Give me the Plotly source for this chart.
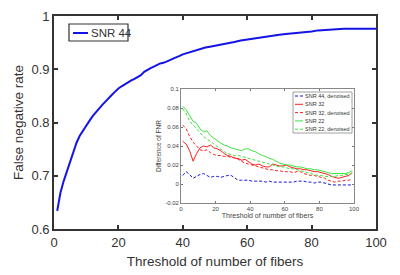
import plotly.graph_objects as go

# ---------------- data ----------------
main_x = list(range(1, 51)) + list(range(52, 101, 2))
snr44_fnr = [0.634, 0.668, 0.690, 0.708, 0.725, 0.740, 0.762, 0.775, 0.785, 0.795,
             0.803, 0.812, 0.820, 0.826, 0.833, 0.840, 0.846, 0.852, 0.858, 0.864,
             0.868, 0.872, 0.876, 0.879, 0.882, 0.885, 0.889, 0.895, 0.899, 0.902,
             0.905, 0.908, 0.911, 0.912, 0.914, 0.917, 0.920, 0.922, 0.925, 0.928,
             0.930, 0.932, 0.934, 0.936, 0.938, 0.939, 0.941, 0.942, 0.943, 0.945,
             0.947, 0.949, 0.951, 0.954, 0.956, 0.958, 0.960, 0.962, 0.964, 0.965,
             0.966, 0.967, 0.968, 0.969, 0.971, 0.973, 0.974, 0.975, 0.975, 0.976,
             0.976, 0.976, 0.976, 0.976, 0.976]

inset_x = list(range(1, 100, 2))
snr44_den = [0.009, 0.013, 0.010, 0.006, 0.008, 0.010, 0.011, 0.009, 0.007, 0.008,
             0.008, 0.007, 0.008, 0.009, 0.009, 0.006, 0.004, 0.004, 0.004, 0.004,
             0.003, 0.003, 0.003, 0.003, 0.002, 0.003, 0.002, 0.002, 0.002, 0.002,
             0.002, 0.002, 0.002, 0.003, 0.003, 0.003, 0.002, 0.002, 0.001, 0.002,
             0.002, 0.001, 0.000, -0.001, -0.001, -0.001, -0.001, -0.001, -0.001, -0.001]
snr32 = [0.045, 0.042, 0.035, 0.024, 0.032, 0.038, 0.040, 0.039, 0.041, 0.038,
         0.037, 0.035, 0.032, 0.030, 0.029, 0.027, 0.027, 0.025, 0.026, 0.023,
         0.021, 0.020, 0.021, 0.019, 0.018, 0.018, 0.021, 0.020, 0.019, 0.019,
         0.020, 0.018, 0.017, 0.016, 0.016, 0.015, 0.015, 0.014, 0.013, 0.013,
         0.012, 0.011, 0.010, 0.008, 0.007, 0.006, 0.007, 0.008, 0.009, 0.012]
snr32_den = [0.062, 0.058, 0.050, 0.044, 0.040, 0.036, 0.035, 0.036, 0.033, 0.031,
             0.030, 0.030, 0.029, 0.029, 0.028, 0.028, 0.026, 0.024, 0.022, 0.021,
             0.020, 0.019, 0.018, 0.017, 0.016, 0.015, 0.015, 0.014, 0.014, 0.013,
             0.013, 0.013, 0.012, 0.013, 0.013, 0.011, 0.010, 0.009, 0.009, 0.008,
             0.007, 0.006, 0.004, 0.003, 0.002, 0.003, 0.003, 0.004, 0.004, 0.005]
snr22 = [0.082, 0.078, 0.072, 0.066, 0.064, 0.058, 0.055, 0.056, 0.051, 0.048,
         0.045, 0.043, 0.041, 0.040, 0.038, 0.037, 0.036, 0.035, 0.037, 0.037,
         0.035, 0.034, 0.032, 0.030, 0.029, 0.027, 0.026, 0.024, 0.022, 0.021,
         0.020, 0.020, 0.019, 0.018, 0.018, 0.017, 0.016, 0.016, 0.015, 0.015,
         0.014, 0.013, 0.012, 0.011, 0.011, 0.011, 0.011, 0.011, 0.012, 0.014]
snr22_den = [0.079, 0.074, 0.066, 0.062, 0.058, 0.053, 0.050, 0.047, 0.045, 0.042,
             0.039, 0.037, 0.034, 0.032, 0.031, 0.030, 0.030, 0.029, 0.028, 0.027,
             0.026, 0.025, 0.024, 0.023, 0.022, 0.021, 0.020, 0.019, 0.018, 0.018,
             0.017, 0.016, 0.016, 0.015, 0.014, 0.013, 0.012, 0.011, 0.010, 0.009,
             0.009, 0.008, 0.008, 0.008, 0.008, 0.009, 0.009, 0.010, 0.010, 0.011]

main_xticks = [0, 20, 40, 60, 80, 100]
main_yticks = [0.6, 0.7, 0.8, 0.9, 1.0]
main_yticklabels = ["0.6", "0.7", "0.8", "0.9", "1"]
inset_xticks = [0, 20, 40, 60, 80, 100]
inset_yticks = [-0.02, 0, 0.02, 0.04, 0.06, 0.08, 0.1]
inset_yticklabels = ["-0.02", "0", "0.02", "0.04", "0.06", "0.08", "0.1"]

BLUE = "rgb(20,20,230)"
RED = "rgb(255,30,30)"
GREEN = "rgb(60,228,60)"
SHORT_DASH = "3px,2px"

inset_series = [
    ("SNR 44, denoised", snr44_den, BLUE, SHORT_DASH),
    ("SNR 32", snr32, RED, "solid"),
    ("SNR 32, denoised", snr32_den, RED, SHORT_DASH),
    ("SNR 22", snr22, GREEN, "solid"),
    ("SNR 22, denoised", snr22_den, GREEN, SHORT_DASH),
]

# ---------------- figure ----------------
W, H = 400, 275
ML, MR, MT, MB = 54, 24, 16, 46
PW, PH = W - ML - MR, H - MT - MB


def px(x):
    return (x - ML) / PW


def py(y):
    return (H - MB - y) / PH


FONT = "Liberation Sans, Arial, sans-serif"
TXT = "#333333"

fig = go.Figure()
fig.add_trace(go.Scatter(x=main_x, y=snr44_fnr, mode="lines", name="SNR 44",
                         line=dict(color=BLUE, width=2), xaxis="x", yaxis="y",
                         showlegend=False))
for name, vals, col, dash in inset_series:
    fig.add_trace(go.Scatter(x=inset_x, y=vals, mode="lines", name=name,
                             line=dict(color=col, width=1, dash=dash),
                             xaxis="x2", yaxis="y2", showlegend=False))

# inset domain (pixels -> paper)
ix0, ix1, iy0, iy1 = 181, 354, 89, 203

fig.update_layout(
    width=W, height=H,
    margin=dict(l=ML, r=MR, t=MT, b=MB),
    paper_bgcolor="white", plot_bgcolor="white",
    font=dict(family=FONT, color=TXT),
    xaxis=dict(domain=[0, 1], range=[0, 100], tickvals=main_xticks,
               ticks="inside", ticklen=4, tickwidth=1.5, tickcolor="#333",
               showline=True, linecolor="#333", linewidth=1.8, mirror="ticks",
               showgrid=False, zeroline=False, tickfont=dict(size=13),
               automargin=False,
               title=dict(text="Threshold of number of fibers", font=dict(size=13.5),
                          standoff=8)),
    yaxis=dict(domain=[0, 1], range=[0.6, 1.0], tickvals=main_yticks,
               ticktext=main_yticklabels,
               ticks="inside", ticklen=4, tickwidth=1.5, tickcolor="#333",
               showline=True, linecolor="#333", linewidth=1.8, mirror="ticks",
               showgrid=False, zeroline=False, tickfont=dict(size=13),
               automargin=False,
               title=dict(text="False negative rate", font=dict(size=13.5),
                          standoff=5)),
    xaxis2=dict(domain=[px(ix0), px(ix1)], anchor="y2", range=[0, 100],
                tickvals=inset_xticks, ticks="inside", ticklen=2, tickwidth=0.8,
                tickcolor="#777", showline=True, linecolor="#888", linewidth=0.8,
                mirror="ticks", showgrid=False, zeroline=False,
                tickfont=dict(size=6, color="#444"), automargin=False,
                title=dict(text="Threshold of number of fibers",
                           font=dict(size=7, color="#444"), standoff=2)),
    yaxis2=dict(domain=[py(iy1), py(iy0)], anchor="x2", range=[-0.02, 0.1],
                tickvals=inset_yticks, ticktext=inset_yticklabels,
                ticks="inside", ticklen=2, tickwidth=0.8,
                tickcolor="#777", showline=True, linecolor="#888", linewidth=0.8,
                mirror="ticks", showgrid=False, zeroline=False,
                tickfont=dict(size=6, color="#444"), automargin=False,
                title=dict(text="Difference of FNR",
                           font=dict(size=6.5, color="#444"), standoff=2)),
    showlegend=False,
)

shapes = []
annotations = []
# main legend box
shapes.append(dict(type="rect", xref="paper", yref="paper",
                   x0=px(69), x1=px(128), y0=py(41), y1=py(24),
                   line=dict(color="#333", width=1.2), fillcolor="white"))
shapes.append(dict(type="line", xref="paper", yref="paper",
                   x0=px(73), x1=px(88), y0=py(33), y1=py(33),
                   line=dict(color=BLUE, width=2)))
annotations.append(dict(xref="paper", yref="paper", x=px(89), y=py(33),
                        text="SNR 44", showarrow=False, xanchor="left",
                        yanchor="middle", font=dict(size=11.5, color=TXT)))

# inset legend box
shapes.append(dict(type="rect", xref="paper", yref="paper",
                   x0=px(293), x1=px(352), y0=py(133), y1=py(92),
                   line=dict(color="#888", width=0.8), fillcolor="white"))
for i, (name, vals, col, dash) in enumerate(inset_series):
    yy = 96 + i * 8.3
    shapes.append(dict(type="line", xref="paper", yref="paper",
                       x0=px(295), x1=px(303), y0=py(yy), y1=py(yy),
                       line=dict(color=col, width=1, dash=dash)))
    annotations.append(dict(xref="paper", yref="paper", x=px(303), y=py(yy),
                            text=name, showarrow=False, xanchor="left",
                            yanchor="middle", font=dict(size=5.5, color="#333")))

fig.update_layout(shapes=shapes, annotations=annotations)
fig.write_html("out.html", config={"displayModeBar": False},
               post_script="document.body.style.margin='0';"
                           "document.body.style.overflow='hidden';")
